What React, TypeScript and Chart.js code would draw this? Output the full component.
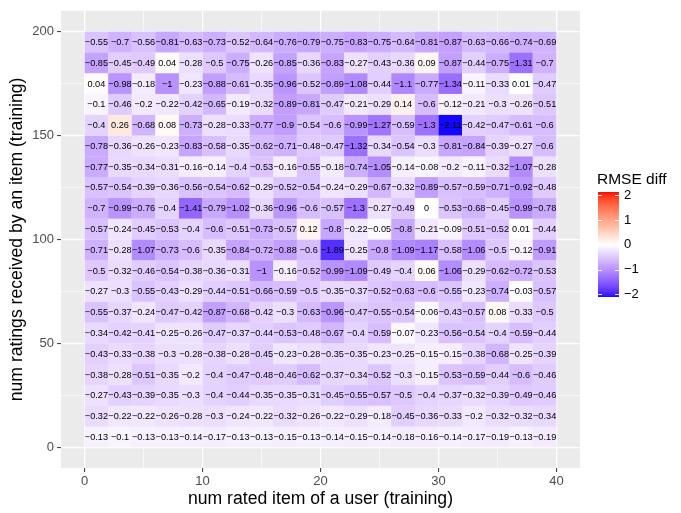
import React, { useEffect, useRef } from "react";
import { Chart, registerables } from "chart.js";

Chart.register(...registerables);

// ---- categories (cell centres) ----
const xCenters = [1, 3, 5, 7, 9, 11, 13, 15, 17, 19, 21, 23, 25, 27, 29, 31, 33, 35, 37, 39];
const yCenters = [5, 15, 25, 35, 45, 55, 65, 75, 85, 95, 105, 115, 125, 135, 145, 155, 165, 175, 185, 195];

// ---- RMSE diff values, one row per y centre ----
const y005 = [-0.13, -0.1, -0.13, -0.13, -0.14, -0.17, -0.13, -0.13, -0.15, -0.13, -0.14, -0.15, -0.14, -0.18, -0.16, -0.14, -0.17, -0.19, -0.13, -0.19];
const y015 = [-0.32, -0.22, -0.22, -0.26, -0.28, -0.3, -0.24, -0.22, -0.32, -0.26, -0.22, -0.29, -0.18, -0.45, -0.36, -0.33, -0.2, -0.32, -0.32, -0.34];
const y025 = [-0.27, -0.43, -0.39, -0.35, -0.3, -0.4, -0.44, -0.35, -0.35, -0.31, -0.45, -0.55, -0.57, -0.5, -0.4, -0.37, -0.32, -0.39, -0.49, -0.46];
const y035 = [-0.38, -0.28, -0.51, -0.35, -0.2, -0.4, -0.47, -0.48, -0.46, -0.62, -0.37, -0.34, -0.52, -0.3, -0.15, -0.53, -0.59, -0.44, -0.6, -0.46];
const y045 = [-0.43, -0.33, -0.38, -0.3, -0.28, -0.38, -0.28, -0.45, -0.23, -0.28, -0.35, -0.35, -0.23, -0.25, -0.15, -0.15, -0.38, -0.68, -0.25, -0.39];
const y055 = [-0.34, -0.42, -0.41, -0.25, -0.26, -0.47, -0.37, -0.44, -0.53, -0.48, -0.67, -0.4, -0.59, -0.07, -0.23, -0.56, -0.54, -0.4, -0.59, -0.44];
const y065 = [-0.55, -0.37, -0.24, -0.47, -0.42, -0.87, -0.68, -0.42, -0.3, -0.63, -0.96, -0.47, -0.55, -0.54, -0.06, -0.43, -0.57, 0.08, -0.33, -0.5];
const y075 = [-0.27, -0.3, -0.55, -0.43, -0.29, -0.44, -0.51, -0.66, -0.59, -0.5, -0.35, -0.37, -0.52, -0.63, -0.6, -0.55, -0.23, -0.74, -0.03, -0.57];
const y085 = [-0.5, -0.32, -0.46, -0.54, -0.38, -0.36, -0.31, -1, -0.16, -0.52, -0.99, -1.09, -0.49, -0.4, 0.06, -1.06, -0.29, -0.62, -0.72, -0.53];
const y095 = [-0.71, -0.28, -1.07, -0.73, -0.6, -0.35, -0.84, -0.72, -0.88, -0.6, -1.89, -0.25, -0.8, -1.09, -1.17, -0.58, -1.06, -0.5, -0.12, -0.91];
const y105 = [-0.57, -0.24, -0.45, -0.53, -0.4, -0.6, -0.51, -0.73, -0.57, 0.12, -0.8, -0.22, -0.05, -0.8, -0.21, -0.09, -0.51, -0.52, 0.01, -0.44];
const y115 = [-0.7, -0.99, -0.76, -0.4, -1.41, -0.79, -1.02, -0.36, -0.96, -0.6, -0.57, -1.3, -0.27, -0.49, 0, -0.53, -0.68, -0.45, -0.99, -0.78];
const y125 = [-0.57, -0.54, -0.39, -0.36, -0.56, -0.54, -0.62, -0.29, -0.52, -0.54, -0.24, -0.29, -0.67, -0.32, -0.89, -0.57, -0.59, -0.71, -0.92, -0.48];
const y135 = [-0.77, -0.35, -0.34, -0.31, -0.16, -0.14, -0.4, -0.53, -0.16, -0.55, -0.18, -0.74, -1.05, -0.14, -0.08, -0.2, -0.11, -0.32, -1.07, -0.28];
const y145 = [-0.78, -0.36, -0.26, -0.23, -0.83, -0.58, -0.35, -0.62, -0.71, -0.48, -0.47, -1.32, -0.34, -0.54, -0.3, -0.81, -0.84, -0.39, -0.27, -0.6];
const y155 = [-0.4, 0.26, -0.68, 0.08, -0.73, -0.28, -0.33, -0.77, -0.9, -0.54, -0.6, -0.99, -1.27, -0.59, -1.3, -2.11, -0.42, -0.47, -0.61, -0.6];
const y165 = [-0.1, -0.46, -0.2, -0.22, -0.42, -0.65, -0.19, -0.32, -0.89, -0.81, -0.47, -0.21, -0.29, 0.14, -0.6, -0.12, -0.21, -0.3, -0.26, -0.51];
const y175 = [0.04, -0.98, -0.18, -1, -0.23, -0.88, -0.61, -0.35, -0.96, -0.52, -0.89, -1.08, -0.44, -1.1, -0.77, -1.34, -0.11, -0.33, 0.01, -0.47];
const y185 = [-0.85, -0.45, -0.49, 0.04, -0.28, -0.5, -0.75, -0.26, -0.85, -0.36, -0.83, -0.27, -0.43, -0.36, 0.09, -0.87, -0.44, -0.75, -1.31, -0.7];
const y195 = [-0.55, -0.7, -0.56, -0.81, -0.63, -0.73, -0.52, -0.64, -0.76, -0.79, -0.75, -0.83, -0.75, -0.64, -0.81, -0.87, -0.63, -0.66, -0.74, -0.69];

// ---- tick labels ----
const xTicks = [0, 5, 10, 15, 20, 25, 30, 35, 40];
const xMajor = [0, 10, 20, 30, 40];
const yTicks = [0, 25, 50, 75, 100, 125, 150, 175, 200];
const yMajor = [0, 50, 100, 150, 200];
const legendTicks = [2, 1, 0, -1, -2];
const legendLimits = [-2.11, 2.13];

const rows = [y005, y015, y025, y035, y045, y055, y065, y075, y085, y095, y105, y115, y125, y135, y145, y155, y165, y175, y185, y195];

const FONT = "'Liberation Sans', Arimo, Arial, Helvetica, sans-serif";

// ---- colour scale: blue - white - red, interpolated in Lab ----
function toLin(c: number) {
  c /= 255;
  return c <= 0.04045 ? c / 12.92 : Math.pow((c + 0.055) / 1.055, 2.4);
}
function fromLin(c: number) {
  const v = c <= 0.0031308 ? 12.92 * c : 1.055 * Math.pow(c, 1 / 2.4) - 0.055;
  return Math.round(Math.max(0, Math.min(1, v)) * 255);
}
function rgbToLab(rgb: number[]) {
  const R = toLin(rgb[0]), G = toLin(rgb[1]), B = toLin(rgb[2]);
  const X = (0.4124564 * R + 0.3575761 * G + 0.1804375 * B) / 0.95047;
  const Y = 0.2126729 * R + 0.7151522 * G + 0.072175 * B;
  const Z = (0.0193339 * R + 0.119192 * G + 0.9503041 * B) / 1.08883;
  const f = (t: number) => (t > 0.008856 ? Math.cbrt(t) : 7.787 * t + 16 / 116);
  const fx = f(X), fy = f(Y), fz = f(Z);
  return [116 * fy - 16, 500 * (fx - fy), 200 * (fy - fz)];
}
function labToRgb(lab: number[]) {
  const fy = (lab[0] + 16) / 116;
  const fx = fy + lab[1] / 500;
  const fz = fy - lab[2] / 200;
  const inv = (t: number) => (t * t * t > 0.008856 ? t * t * t : (t - 16 / 116) / 7.787);
  const X = inv(fx) * 0.95047, Y = inv(fy), Z = inv(fz) * 1.08883;
  const R = 3.2404542 * X - 1.5371385 * Y - 0.4985314 * Z;
  const G = -0.969266 * X + 1.8760108 * Y + 0.041556 * Z;
  const B = 0.0556434 * X - 0.2040259 * Y + 1.0572252 * Z;
  return [fromLin(R), fromLin(G), fromLin(B)];
}
const LAB_LOW = rgbToLab([0, 0, 255]);
const LAB_MID = rgbToLab([255, 255, 255]);
const LAB_HIGH = rgbToLab([255, 0, 0]);
function colorFor(v: number) {
  const m = Math.max(Math.abs(legendLimits[0]), Math.abs(legendLimits[1]));
  const t = Math.max(0, Math.min(1, 0.5 + v / (2 * m)));
  let a: number[], b: number[], u: number;
  if (t < 0.5) { a = LAB_LOW; b = LAB_MID; u = t / 0.5; }
  else { a = LAB_MID; b = LAB_HIGH; u = (t - 0.5) / 0.5; }
  const lab = [a[0] + (b[0] - a[0]) * u, a[1] + (b[1] - a[1]) * u, a[2] + (b[2] - a[2]) * u];
  const c = labToRgb(lab);
  return `rgb(${c[0]},${c[1]},${c[2]})`;
}
function fmt(v: number) {
  return String(v).replace("-", "\u2212");
}

export default function App() {
  const ref = useRef<HTMLCanvasElement | null>(null);

  useEffect(() => {
    if (!ref.current) return;
    const cells: { x: number; y: number; v: number }[] = [];
    rows.forEach((row, j) => row.forEach((v, i) => cells.push({ x: xCenters[i], y: yCenters[j], v })));

    const panelBg = {
      id: "panelBg",
      beforeDraw(chart: any) {
        const { ctx, chartArea: a } = chart;
        ctx.save();
        ctx.fillStyle = "#EBEBEB";
        ctx.fillRect(a.left, a.top, a.right - a.left, a.bottom - a.top);
        ctx.restore();
      },
    };

    const tiles = {
      id: "tiles",
      afterDatasetsDraw(chart: any) {
        const { ctx } = chart;
        const xs = chart.scales.x, ys = chart.scales.y;
        ctx.save();
        cells.forEach((c) => {
          const x0 = xs.getPixelForValue(c.x - 1), x1 = xs.getPixelForValue(c.x + 1);
          const y0 = ys.getPixelForValue(c.y + 5), y1 = ys.getPixelForValue(c.y - 5);
          ctx.fillStyle = colorFor(c.v);
          ctx.fillRect(x0, y0, x1 - x0, y1 - y0);
        });
        ctx.fillStyle = "#000";
        ctx.font = `9.2px ${FONT}`;
        ctx.textAlign = "center";
        ctx.textBaseline = "middle";
        cells.forEach((c) => {
          ctx.fillText(fmt(c.v), xs.getPixelForValue(c.x), ys.getPixelForValue(c.y) + 0.5);
        });
        ctx.restore();
      },
    };

    const colorbar = {
      id: "colorbar",
      afterDraw(chart: any) {
        const { ctx } = chart;
        const left = 598, width = 21, top = 192, bottom = 297;
        const vToY = (v: number) => bottom - ((v - legendLimits[0]) / (legendLimits[1] - legendLimits[0])) * (bottom - top);
        ctx.save();
        ctx.fillStyle = "#000";
        ctx.font = `15.5px ${FONT}`;
        ctx.textAlign = "left";
        ctx.textBaseline = "middle";
        ctx.fillText("RMSE diff", 597, 180);
        for (let y = top; y < bottom; y++) {
          const v = legendLimits[1] - ((y + 0.5 - top) / (bottom - top)) * (legendLimits[1] - legendLimits[0]);
          ctx.fillStyle = colorFor(v);
          ctx.fillRect(left, y, width, 1);
        }
        ctx.strokeStyle = "rgba(255,255,255,0.9)";
        ctx.lineWidth = 1;
        ctx.font = `13px ${FONT}`;
        ctx.fillStyle = "#000";
        legendTicks.forEach((t) => {
          const y = Math.round(vToY(t)) + 0.5;
          ctx.beginPath();
          ctx.moveTo(left, y); ctx.lineTo(left + 4, y);
          ctx.moveTo(left + width - 4, y); ctx.lineTo(left + width, y);
          ctx.stroke();
          ctx.fillText(fmt(t), 624, vToY(t));
        });
        ctx.restore();
      },
    };

    const chart = new Chart(ref.current, {
      type: "scatter",
      data: {
        datasets: [
          {
            data: cells.map((c) => ({ x: c.x, y: c.y })),
            pointRadius: 0,
            pointHoverRadius: 0,
          },
        ],
      },
      options: {
        animation: false,
        responsive: false,
        devicePixelRatio: 1,
        events: [],
        layout: { padding: { left: 0, right: 101, top: 3, bottom: 0 } },
        plugins: { legend: { display: false }, tooltip: { enabled: false } },
        scales: {
          x: {
            type: "linear",
            min: -2,
            max: 42,
            afterBuildTicks: (s: any) => { s.ticks = xTicks.map((value) => ({ value })); },
            afterFit: (s: any) => { s.height = 45; },
            ticks: {
              autoSkip: false,
              maxRotation: 0,
              padding: 2,
              color: "#4D4D4D",
              font: { family: FONT, size: 13 },
              callback: (v: any) => (xMajor.includes(Number(v)) ? String(v) : ""),
            },
            grid: {
              color: "#FFFFFF",
              lineWidth: (c: any) => (xMajor.includes(c.tick?.value) ? 1.2 : 0.6),
              tickColor: (c: any) => (xMajor.includes(c.tick?.value) ? "#333333" : "rgba(0,0,0,0)"),
              tickWidth: 1,
              tickLength: 4,
            },
            border: { display: false },
            title: {
              display: true,
              text: "num rated item of a user (training)",
              color: "#000",
              font: { family: FONT, size: 17.6 },
              padding: { top: 0, bottom: 3 },
            },
          },
          y: {
            type: "linear",
            min: -10,
            max: 210,
            afterBuildTicks: (s: any) => { s.ticks = yTicks.map((value) => ({ value })); },
            afterFit: (s: any) => { s.width = 61; },
            ticks: {
              autoSkip: false,
              padding: 3,
              color: "#4D4D4D",
              font: { family: FONT, size: 13 },
              callback: (v: any) => (yMajor.includes(Number(v)) ? String(v) : ""),
            },
            grid: {
              color: "#FFFFFF",
              lineWidth: (c: any) => (yMajor.includes(c.tick?.value) ? 1.2 : 0.6),
              tickColor: (c: any) => (yMajor.includes(c.tick?.value) ? "#333333" : "rgba(0,0,0,0)"),
              tickWidth: 1,
              tickLength: 4,
            },
            border: { display: false },
            title: {
              display: true,
              text: "num ratings received by an item (training)",
              color: "#000",
              font: { family: FONT, size: 17.6 },
              padding: { top: 7, bottom: 0 },
            },
          },
        },
      },
      plugins: [panelBg, tiles, colorbar],
    } as any);
    return () => chart.destroy();
  }, []);

  return (
    <canvas
      ref={ref}
      width={681}
      height={513}
      style={{ position: "absolute", left: 0, top: 0, width: 681, height: 513, display: "block" }}
    />
  );
}
